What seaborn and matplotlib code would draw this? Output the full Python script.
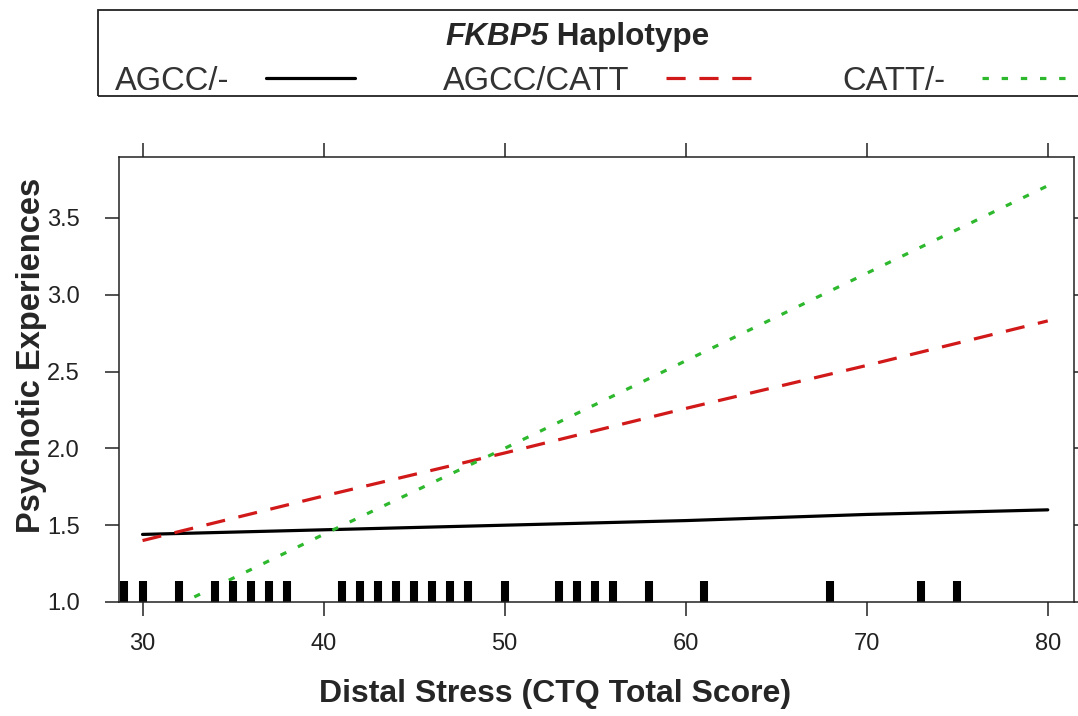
import matplotlib
matplotlib.use("Agg")
import matplotlib.pyplot as plt
from matplotlib.patches import Rectangle
import numpy as np
import pandas as pd
import seaborn as sns

# Fitted effect of childhood trauma on psychotic experiences, by FKBP5 haplotype
ctq_scores = [30, 40, 50, 60, 70, 80]
agcc_none = [1.44, 1.47, 1.50, 1.53, 1.57, 1.60]
agcc_catt = [1.40, 1.69, 1.97, 2.26, 2.54, 2.83]
catt_none = [0.87, 1.44, 2.00, 2.57, 3.14, 3.71]
haplotypes = ["AGCC/-", "AGCC/CATT", "CATT/-"]

# Observed CTQ total scores (rug)
observed_ctq = [29, 30, 32, 34, 35, 36, 37, 38, 41, 42, 43, 44, 45, 46, 47, 48,
                50, 53, 54, 55, 56, 58, 61, 68, 73, 75]

x_ticks = [30, 40, 50, 60, 70, 80]
y_ticks = [1.0, 1.5, 2.0, 2.5, 3.0, 3.5]

sns.set_style("ticks")
plt.rcParams["font.family"] = ["Liberation Sans", "DejaVu Sans"]

df = pd.DataFrame({
    "ctq": ctq_scores * 3,
    "pe": agcc_none + agcc_catt + catt_none,
    "Haplotype": np.repeat(haplotypes, len(ctq_scores)),
})

W, H = 1078, 716
fig = plt.figure(figsize=(W / 100, H / 100), dpi=100)
ax = fig.add_axes([119 / W, 1 - 602 / H, (1074 - 119) / W, (602 - 157) / H])

palette = {"AGCC/-": "black", "AGCC/CATT": "#d11919", "CATT/-": "#2eb82e"}
dashes = {"AGCC/-": "", "AGCC/CATT": (6.0, 4.3), "CATT/-": (2.0, 4.0)}
sns.lineplot(data=df, x="ctq", y="pe", hue="Haplotype", style="Haplotype",
             palette=palette, dashes=dashes, hue_order=haplotypes,
             style_order=haplotypes, lw=2.3, ax=ax)

sns.rugplot(x=observed_ctq, height=0.047, linewidth=5.8, color="black",
            ax=ax)

ax.set_xlim(28.70, 81.45)
ax.set_ylim(1.0, 3.897)
ax.set_xticks(x_ticks)
ax.set_yticks(y_ticks)
ax.set_yticklabels([f"{v:.1f}" for v in y_ticks])
for s in ax.spines.values():
    s.set_linewidth(1.1)
    s.set_color("#222222")
ax.tick_params(direction="out", length=10, width=1.1, top=True, right=True,
               labeltop=False, labelright=False, labelsize=17,
               colors="#222222")
ax.tick_params(axis="x", pad=12)
ax.tick_params(axis="y", pad=18)
ax.set_xlabel("Distal Stress (CTQ Total Score)", fontsize=23,
              fontweight="bold")
ax.set_ylabel("Psychotic Experiences", fontsize=23.5, fontweight="bold")
ax.xaxis.set_label_coords((555 - 119) / 955, -(679 - 602) / 445)
ax.yaxis.set_label_coords(-(119 - 47) / 955, (602 - 355) / 445)

# Key above the panel
handles, labels = ax.get_legend_handles_labels()
ax.get_legend().remove()
leg = fig.legend(handles, labels, ncol=3, markerfirst=False, frameon=False,
                 loc="center left", bbox_to_anchor=(115 / W, 1 - 81 / H),
                 fontsize=23.5, handlelength=2.72, handletextpad=1.13,
                 columnspacing=2.68, borderpad=0, borderaxespad=0)
for t in leg.get_texts():
    t.set_color("#333333")

fig.add_artist(Rectangle((98 / W, 1 - 96 / H), 1.0, 86 / H,
                         transform=fig.transFigure, fill=False,
                         ec="#222222", lw=1.3, clip_on=False))

t1 = fig.text(445 / W, 1 - 45 / H, "FKBP5", fontsize=22.7, fontweight="bold",
              fontstyle="italic", va="baseline", ha="left")
fig.canvas.draw()
bb = t1.get_window_extent(renderer=fig.canvas.get_renderer())
fig.text(bb.x1 / W, 1 - 45 / H, " Haplotype", fontsize=22.7,
         fontweight="bold", va="baseline", ha="left")

fig.savefig("out.png", dpi=100)
